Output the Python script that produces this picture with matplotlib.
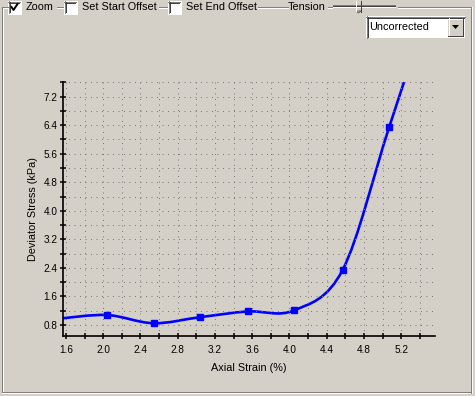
import matplotlib
matplotlib.use("Agg")
import matplotlib.pyplot as plt
from matplotlib.path import Path
from matplotlib.patches import PathPatch, Rectangle, Polygon
from matplotlib.lines import Line2D

# data (first / last points sit outside the view)
strain = [1.53, 2.04, 2.54, 3.04, 3.55, 4.05, 4.57, 5.07, 5.57]
stress = [0.98, 1.08, 0.85, 1.02, 1.18, 1.21, 2.34, 6.34, 10.3]
tension = 0.5

x_ticks = [1.6, 1.8, 2.0, 2.2, 2.4, 2.6, 2.8, 3.0, 3.2, 3.4, 3.6, 3.8, 4.0,
           4.2, 4.4, 4.6, 4.8, 5.0, 5.2, 5.4]
x_labels = ['1.6', '', '2.0', '', '2.4', '', '2.8', '', '3.2', '', '3.6', '',
            '4.0', '', '4.4', '', '4.8', '', '5.2', '']
y_ticks = [0.8, 1.2, 1.6, 2.0, 2.4, 2.8, 3.2, 3.6, 4.0, 4.4, 4.8, 5.2, 5.6,
           6.0, 6.4, 6.8, 7.2, 7.6]
y_labels = ['0.8', '', '1.6', '', '2.4', '', '3.2', '', '4.0', '', '4.8', '',
            '5.6', '', '6.4', '', '7.2', '']

bg = '#d4d0c8'
W, H = 475, 396
plt.rcParams['font.family'] = ['Liberation Sans', 'DejaVu Sans']

fig = plt.figure(figsize=(W / 100, H / 100), dpi=100, facecolor=bg)


def fx(x):
    return x / W


def fy(y):
    return 1 - y / H


# axes placed in pixel terms
ax = fig.add_axes([fx(63), fy(336), fx(435) - fx(63), fy(81.7) - fy(336)])
ax.set_facecolor(bg)
ax.set_xlim(1.568, 5.563)
ax.set_ylim(0.492, 7.62)

for s in ['top', 'right']:
    ax.spines[s].set_visible(False)
for s in ['left', 'bottom']:
    ax.spines[s].set_linewidth(1.2)
    ax.spines[s].set_color('black')

ax.set_xticks(x_ticks)
ax.set_xticklabels(x_labels)
ax.set_yticks(y_ticks)
ax.set_yticklabels(y_labels)
ax.tick_params(axis='both', direction='inout', length=5, width=1.1,
               labelsize=7.2, colors='black')
ax.tick_params(axis='x', pad=4)
ax.tick_params(axis='y', pad=1.5)
ax.grid(True, color='#7a7a7a', linestyle=(0, (1, 4.5)), linewidth=0.72)

ax.set_xlabel('Axial Strain (%)', fontsize=7.8, labelpad=6)
ax.set_ylabel('Deviator Stress (kPa)', fontsize=7.8, labelpad=4)

# cardinal spline through the points, as bezier segments
verts = [(strain[0], stress[0])]
codes = [Path.MOVETO]
n = len(strain)
for i in range(n - 1):
    p0 = (strain[max(i - 1, 0)], stress[max(i - 1, 0)])
    p1 = (strain[i], stress[i])
    p2 = (strain[i + 1], stress[i + 1])
    p3 = (strain[min(i + 2, n - 1)], stress[min(i + 2, n - 1)])
    c1 = (p1[0] + tension * (p2[0] - p0[0]) / 3, p1[1] + tension * (p2[1] - p0[1]) / 3)
    c2 = (p2[0] - tension * (p3[0] - p1[0]) / 3, p2[1] - tension * (p3[1] - p1[1]) / 3)
    verts += [c1, c2, p2]
    codes += [Path.CURVE4] * 3
curve = PathPatch(Path(verts, codes), facecolor='none', edgecolor='#0000ff', lw=1.9)
ax.add_patch(curve)
ax.plot(strain, stress, 's', color='#0000ff', ms=4.3)

# --- window chrome around the chart ---
gray, white = '#808080', '#ffffff'


def hline(x0, x1, y, c):
    fig.add_artist(Line2D([fx(x0), fx(x1)], [fy(y), fy(y)], color=c, lw=0.72))


def vline(x, y0, y1, c):
    fig.add_artist(Line2D([fx(x), fx(x)], [fy(y0), fy(y1)], color=c, lw=0.72))


def box(x0, y0, x1, y1, fc):
    fig.add_artist(Rectangle((fx(x0), fy(y1)), fx(x1) - fx(x0), fy(y0) - fy(y1),
                             facecolor=fc, edgecolor='none'))


# etched group box
for a, b in [(2, 8), (57, 63), (159, 167), (258, 288), (328, 332), (398, 471)]:
    hline(a, b, 7, gray)
    hline(a, b, 8, white)
vline(2, 7, 393, gray)
vline(3, 8, 392, white)
hline(2, 471, 392, gray)
hline(2, 472, 393, white)
vline(470.5, 7, 393, gray)
vline(471.5, 7, 393, white)


def checkbox(x, y, checked=False):
    box(x, y, x + 13, y + 13, white)
    hline(x, x + 12, y + 0.5, gray)
    vline(x + 0.5, y, y + 12, gray)
    hline(x + 1, x + 11, y + 1.5, '#404040')
    vline(x + 1.5, y + 1, y + 11, '#404040')
    hline(x, x + 13, y + 12.5, white)
    vline(x + 12.5, y, y + 13, white)
    if checked:
        fig.add_artist(Line2D([fx(x + 3.5), fx(x + 5.5), fx(x + 9.5)],
                              [fy(y + 6), fy(y + 9), fy(y + 3)], color='black', lw=1.4))


checkbox(8, 1, True)
checkbox(64, 1)
checkbox(168, 1)
fig.text(fx(26), fy(7), 'Zoom', fontsize=7.8, va='center')
fig.text(fx(82), fy(7), 'Set Start Offset', fontsize=7.8, va='center')
fig.text(fx(186), fy(7), 'Set End Offset', fontsize=7.8, va='center')
fig.text(fx(288), fy(7), 'Tension', fontsize=7.8, va='center')

# slider
hline(333, 395, 5, gray)
hline(333, 395, 6, '#404040')
hline(333, 395, 7, white)
box(356, 1, 361, 11, bg)
vline(356, 1, 11, white)
vline(360.5, 1, 12, '#404040')
fig.add_artist(Polygon([(fx(356), fy(11)), (fx(361), fy(11)), (fx(358.5), fy(13))],
                       closed=True, facecolor=bg, edgecolor='#404040', lw=0.5))

# dropdown
box(366, 16, 465, 38, white)
hline(366, 465, 16.5, gray)
vline(366.5, 16, 38, gray)
hline(367, 464, 17.5, '#404040')
vline(367.5, 17, 37, '#404040')
box(448, 18, 463, 36, bg)
hline(448, 463, 18.5, white)
vline(448.5, 18, 36, white)
hline(448, 463, 35.5, '#404040')
vline(462.5, 18, 36, '#404040')
fig.add_artist(Polygon([(fx(452), fy(25)), (fx(459), fy(25)), (fx(455.5), fy(29))],
                       closed=True, facecolor='black', edgecolor='none'))
fig.text(fx(369), fy(27), 'Uncorrected', fontsize=7.8, va='center')

fig.savefig('out.png', dpi=100, facecolor=bg)
